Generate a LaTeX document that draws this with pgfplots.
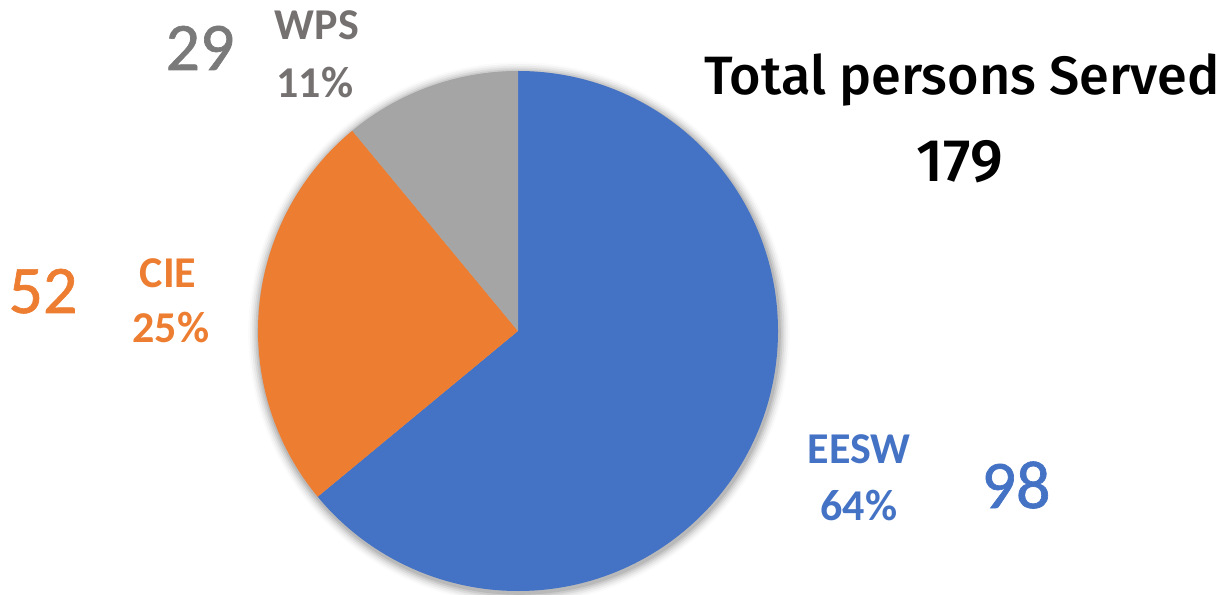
\documentclass[border=0pt]{standalone}
\usepackage{pgfplots}
\usepackage{pgfplotstable}
\pgfplotsset{compat=1.18}
\usepackage{fontspec}
\setmainfont{Carlito}
\newfontfamily\titlefont{Fira Sans}[UprightFont=* Medium]
\newfontfamily\numfont{Carlito}[FakeBold=1]
\definecolor{cblue}{HTML}{4472C4}
\definecolor{corange}{HTML}{ED7D31}
\definecolor{cgray}{HTML}{A5A5A5}
\definecolor{tgray}{HTML}{767171}
\definecolor{ngray}{HTML}{7A7A7A}
\pgfplotstableread{
label count pct
EESW  98    64
CIE   52    25
WPS   29    11
}\piedata
\begin{document}
\begin{tikzpicture}
\pgfplotstablegetelem{0}{pct}\of\piedata \let\pA\pgfplotsretval
\pgfplotstablegetelem{1}{pct}\of\piedata \let\pB\pgfplotsretval
\pgfplotstablegetelem{2}{pct}\of\piedata \let\pC\pgfplotsretval
\pgfmathsetmacro\aA{90}
\pgfmathsetmacro\aB{90-3.6*\pA}
\pgfmathsetmacro\aC{\aB-3.6*\pB}
\pgfmathsetmacro\aD{\aC-3.6*\pC}
\begin{axis}[
  width=615pt, height=297pt, scale only axis,
  xmin=0, xmax=1230, ymin=0, ymax=594,
  hide axis, clip=false,
  every node/.append style={inner sep=0pt},
]
% soft shadow
\pgfplotsinvokeforeach{6,5,4,3,2,1}{
  \fill[black, opacity=0.015*(7-#1)] (axis cs:519,261) circle[radius=130pt+#1*0.9pt];
}
\fill[cblue]   (axis cs:518,263) -- ++(\aA:130pt) arc[start angle=\aA, end angle=\aB, radius=130pt] -- cycle;
\fill[corange] (axis cs:518,263) -- ++(\aB:130pt) arc[start angle=\aB, end angle=\aC, radius=130pt] -- cycle;
\fill[cgray]   (axis cs:518,263) -- ++(\aC:130pt) arc[start angle=\aC, end angle=\aD, radius=130pt] -- cycle;
% labels
\node[anchor=base, text=cblue, font=\fontsize{22}{22}\selectfont\bfseries] at (axis cs:859,131) {EESW};
\node[anchor=base, text=cblue, font=\fontsize{22}{22}\selectfont\bfseries] at (axis cs:859,74) {64\%};
\node[anchor=base, text=corange, font=\fontsize{22}{22}\selectfont\bfseries] at (axis cs:168,306) {CIE};
\node[anchor=base, text=corange, font=\fontsize{22}{22}\selectfont\bfseries] at (axis cs:171,251) {25\%};
\node[anchor=base, text=tgray, font=\fontsize{22}{22}\selectfont\bfseries] at (axis cs:317,554) {WPS};
\node[anchor=base, text=tgray, font=\fontsize{22}{22}\selectfont\bfseries] at (axis cs:315,496) {11\%};
% counts
\node[anchor=base, text=cblue, font=\numfont\fontsize{34}{34}\selectfont] at (axis cs:1016,86) {98};
\node[anchor=base, text=corange, font=\numfont\fontsize{34}{34}\selectfont] at (axis cs:43,281) {52};
\node[anchor=base, text=ngray, font=\numfont\fontsize{34}{34}\selectfont] at (axis cs:200,524) {29};
% title
\node[anchor=base, font=\titlefont\fontsize{27}{27}\selectfont] at (axis cs:962,499) {Total persons Served};
\node[anchor=base, font=\titlefont\fontsize{30}{30}\selectfont] at (axis cs:960,412) {179};
\end{axis}
\pgfresetboundingbox
\path[use as bounding box] (0,0) rectangle (615pt,297pt);
\end{tikzpicture}
\end{document}
